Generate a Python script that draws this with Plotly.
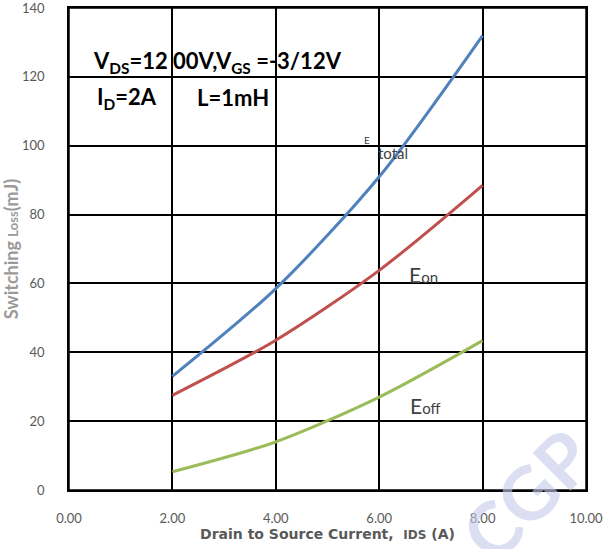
import plotly.graph_objects as go

current = [2, 4, 6, 8]
e_total = [33, 58.5, 91, 132]
e_on = [27.5, 43.5, 63.8, 88.5]
e_off = [5.3, 14, 27, 43.4]

x_ticks = [0, 2, 4, 6, 8, 10]
x_tick_labels = ["0.00", "2.00", "4.00", "6.00", "8.00", "10.00"]
y_ticks = [0, 20, 40, 60, 80, 100, 120, 140]

series_names = ["E<sub>total</sub>", "E<sub>on</sub>", "E<sub>off</sub>"]
series_values = [e_total, e_on, e_off]
series_colors = ["#4f81bd", "#c0504d", "#9bbb59"]

fig = go.Figure()
for name, vals, col in zip(series_names, series_values, series_colors):
    fig.add_trace(go.Scatter(x=current, y=vals, mode="lines", name=name,
                             line=dict(color=col, width=3, shape="spline", smoothing=0.8),
                             showlegend=False, hoverinfo="skip", cliponaxis=False))

tick_font = dict(family="Lato, 'Open Sans', sans-serif", size=13, color="#595959")
fig.update_layout(
    width=605, height=549,
    margin=dict(l=69, r=19, t=8, b=59, autoexpand=False),
    paper_bgcolor="white", plot_bgcolor="white",
    xaxis=dict(range=[0, 10], tickvals=x_ticks, ticktext=x_tick_labels,
               showgrid=True, gridcolor="#000000", gridwidth=1.5,
               showline=True, linecolor="#000000", linewidth=1.5, mirror=True,
               zeroline=False, ticks="", ticklabelstandoff=16, tickfont=tick_font,
               ticklabeloverflow="allow",
               title=dict(text="Drain to Source Current,  <span style='font-size:12px'>IDS</span> (A)",
                          font=dict(family="DejaVu Sans", size=14, color="#595959", weight="bold"),
                          standoff=1)),
    yaxis=dict(range=[0, 140], tickvals=y_ticks,
               showgrid=True, gridcolor="#000000", gridwidth=1.5,
               showline=True, linecolor="#000000", linewidth=1.5, mirror=True,
               zeroline=False, ticks="", ticklabelstandoff=20, tickfont=tick_font,
               ticklabeloverflow="allow",
               title=dict(text="Switching <span style='font-size:13px'>Loss</span>(mJ)",
                          font=dict(family="Lato, 'Open Sans', sans-serif", size=18, color="#9a9a9a", weight="bold"),
                          standoff=2)),
)

fig.add_shape(type="rect", xref="paper", yref="paper", x0=0, x1=1, y0=0, y1=1,
              line=dict(color="#000000", width=1.5), layer="above")

ann_font = dict(family="Lato, 'Open Sans', sans-serif", size=22, color="#000000", weight="bold")
fig.add_annotation(x=0.43, y=124.3, xanchor="left", yanchor="middle", showarrow=False,
                   text="V<sub style='font-size:15px'>DS</sub>=12 00V,V<sub style='font-size:15px'>GS</sub> =-3/12V",
                   font=ann_font)
fig.add_annotation(x=0.50, y=114.0, xanchor="left", yanchor="middle", showarrow=False,
                   text="I<sub style='font-size:15px'>D</sub>=2A", font=ann_font)
fig.add_annotation(x=2.44, y=114.0, xanchor="left", yanchor="middle", showarrow=False,
                   text="L=1mH", font=ann_font)

lab_font = dict(family="Lato, 'Open Sans', sans-serif", color="#404040")
fig.add_annotation(x=5.76, y=101.6, showarrow=False, text="E", font=dict(lab_font, size=10))
fig.add_annotation(x=6.27, y=97.8, showarrow=False, text="total", font=dict(lab_font, size=15))
fig.add_annotation(x=6.85, y=62.6, showarrow=False,
                   text="E<span style='font-size:15px'>on</span>", font=dict(lab_font, size=21))
fig.add_annotation(x=6.89, y=24.5, showarrow=False,
                   text="E<span style='font-size:15px'>off</span>", font=dict(lab_font, size=21))

fig.add_annotation(xref="paper", yref="paper", x=0.885, y=-0.01, xanchor="center", yanchor="middle",
                   showarrow=False, text="CGP", textangle=-45,
                   font=dict(family="Lato, sans-serif", size=74, color="rgba(196,202,234,0.6)", weight="bold"))

fig.write_html("out.html", config={"displayModeBar": False},
               post_script="document.body.style.margin='0';document.body.style.overflow='hidden';")
